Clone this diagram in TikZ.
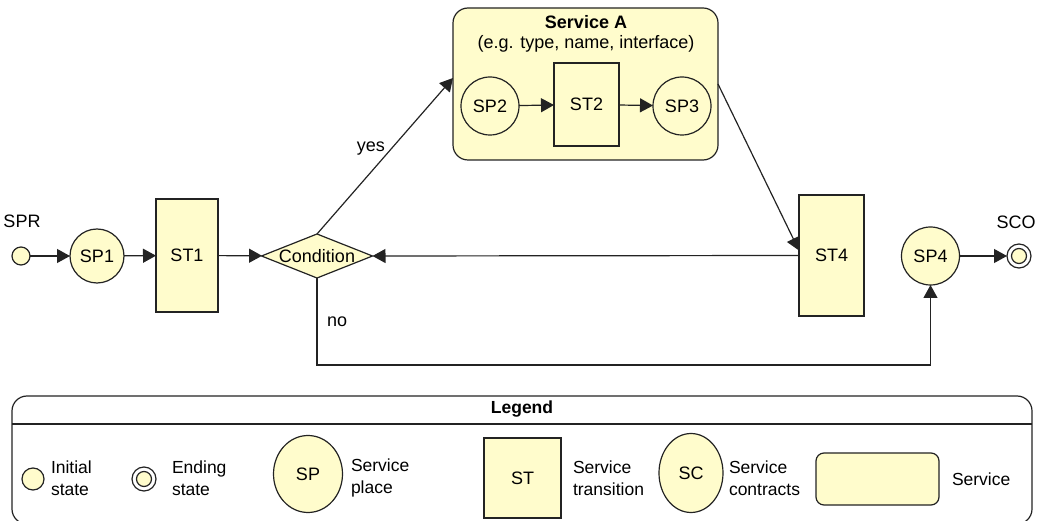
\documentclass[tikz,border=0pt]{standalone}
\usepackage{fontspec}
\setmainfont{Liberation Sans}
\usepackage{xcolor}
\definecolor{paleyel}{RGB}{255,252,204}
\definecolor{inkline}{RGB}{35,35,35}
\usepackage{tikz}
\usetikzlibrary{shapes.geometric}
\usetikzlibrary{arrows.meta}

\begin{document}
\begin{tikzpicture}[x=1pt,y=-1pt,
every node/.style={font=\fontsize{18}{22}\selectfont,inner sep=0pt,outer sep=0pt,text=black},
place/.style={circle,draw=inkline,fill=paleyel,line width=1.2pt,minimum size=#1},
trans/.style 2 args={rectangle,draw=inkline,fill=paleyel,line width=1.2pt,minimum width=#1,minimum height=#2},
ovalplace/.style 2 args={ellipse,draw=inkline,fill=paleyel,line width=1.2pt,minimum width=#1,minimum height=#2},
svcbox/.style 2 args={rectangle,rounded corners=#2,draw=inkline,fill=paleyel,line width=1.2pt,minimum width=#1},
endstate/.style={circle,draw=inkline,fill=white,line width=1.2pt,minimum size=24pt,
  path picture={\draw[inkline,fill=paleyel,line width=1.2pt] (path picture bounding box.center) circle (7.5pt);}},
legtext/.style={anchor=west,align=left,font=\fontsize{17.5}{22}\selectfont},
flow/.style={draw=inkline,line width=1.2pt,-{Triangle[length=13pt,width=14pt]}}]
\useasboundingbox (0,0) rectangle (1037,521);

\node[svcbox={265pt}{15pt},minimum height=152pt] (svca) at (585.5,84) {};
\node[font=\fontsize{18}{22}\selectfont\bfseries] (svcatitle) at (586,22) {Service A};
\node (svcanote) at (586,44) {(e.g. type, name, interface)};
\node[place=58pt] (sp2) at (490,106) {SP2};
\node[trans={65pt}{83pt}] (st2) at (586.5,104.5) {ST2};
\node[place=58pt] (sp3) at (682,106) {SP3};

\node[place=18pt] (spr) at (21,256) {};
\node (sprlbl) at (22,221) {SPR};
\node[place=54pt] (sp1) at (97,256) {SP1};
\node[trans={62pt}{113pt}] (st1) at (187,255.5) {ST1};
\node[diamond,draw=inkline,fill=paleyel,line width=1.2pt,minimum width=111pt,minimum height=44pt,
  label=center:Condition] (cond) at (317,256) {};
\node[trans={65pt}{121pt}] (st4) at (831.5,255.5) {ST4};
\node[place=58pt] (sp4) at (930.5,256) {SP4};
\node[endstate] (sco) at (1019,256) {};
\node (scolbl) at (1016,222) {SCO};

\draw[flow] (spr) -- (sp1);
\draw[flow] (sp1) -- (st1);
\draw[flow] (st1) -- (cond);
\draw[flow] (cond.north) -- node[pos=0.55,left=7pt] {yes} ([yshift=6pt]svca.west);
\draw[flow] (sp2) -- (st2);
\draw[flow] (st2) -- (sp3);
\draw[flow] (svca.east) -- ([yshift=5pt]st4.west);
\draw[flow] (st4.west) -- (cond.east);
\draw[flow] (cond.south) -- node[pos=0.5,right=10pt] {no} ++(0,87) -| (sp4.south);
\draw[flow] (sp4) -- (sco);

\draw[inkline,line width=1.2pt,rounded corners=15pt] (12,396) rectangle (1032,524);
\draw[inkline,line width=1.2pt] (12,424) -- (1032,424);
\node[font=\fontsize{17.5}{22}\selectfont\bfseries] (leghead) at (522,409) {Legend};
\node[place=22pt] (leginit) at (33,479) {};
\node[legtext] (leginittxt) at (51,478) {Initial\\state};
\node[endstate] (legend) at (144,479) {};
\node[legtext] (legendtxt) at (172,478) {Ending\\state};
\node[ovalplace={69pt}{77pt}] (legsp) at (308,474) {SP};
\node[legtext] (legsptxt) at (351,478) {Service\\place};
\node[trans={77pt}{80pt}] (legst) at (522.5,478) {ST};
\node[legtext] (legsttxt) at (573,478) {Service\\transition};
\node[ovalplace={64pt}{79pt}] (legsc) at (691,473) {SC};
\node[legtext] (legsctxt) at (729,478) {Service\\contracts};
\node[svcbox={123pt}{8pt},minimum height=52pt] (legsvc) at (877.5,479) {};
\node[legtext] (legsvctxt) at (952,479) {Service};
\end{tikzpicture}
\end{document}
